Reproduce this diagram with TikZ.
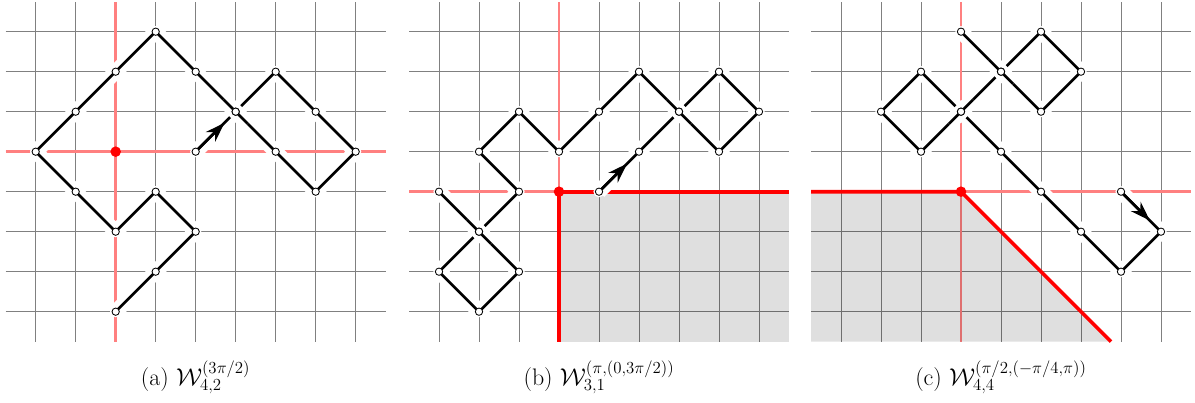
\documentclass[tikz,border=0pt]{standalone}
\usetikzlibrary{arrows.meta, calc}

\begin{document}
\begin{tikzpicture}[
  gridln/.style={gray, line width=0.7pt},
  axisln/.style={red!50, line width=2pt},
  bound/.style={red, line width=2.6pt},
  region/.style={fill=black, fill opacity=0.125},
  halo/.style={white, line width=10.5pt, line join=bevel},
  walk/.style={black, line width=1.9pt, line join=round},
  over/.style={white, line width=11pt},
  vtx/.style={circle, draw=black, fill=white, line width=0.6pt, inner sep=0pt, minimum size=5.2pt},
  orig/.style={circle, fill=red, inner sep=0pt, minimum size=7.5pt},
  stepar/.style={-{Stealth[length=14pt,width=9.5pt]}, line width=1.9pt},
  capt/.style={anchor=base, font=\fontsize{17}{20}\selectfont}
]
\useasboundingbox (0,0) rectangle (29.875,10.075);

% (a)
\begin{scope}[shift={(2.892,6.283)}]
  \foreach \x in {-2,...,6} \draw[gridln] (\x,-4.75) -- (\x,3.75);
  \foreach \y in {-4,...,3} \draw[gridln] (-2.75,\y) -- (6.75,\y);
  \draw[axisln] (-2.75,0) -- (6.75,0) (0,-4.75) -- (0,3.75);
  \foreach \x/\y [count=\k] in {2/0,3/1,4/2,5/1,6/0,5/-1,4/0,3/1,2/2,1/3,0/2,-1/1,-2/0,-1/-1,0/-2,1/-1,2/-2,1/-3,0/-4}
    \coordinate (a\k) at (\x,\y);
  \foreach \k in {1,...,19} \fill[white] (a\k) circle (4pt);
  \draw[halo] (a1) \foreach \k in {2,...,19} {-- (a\k)};
  \draw[walk] (a1) \foreach \k in {2,...,19} {-- (a\k)};
  \draw[stepar] (a1) -- ($(a1)!0.72!(a2)$);
  \draw[over] ($(a7)!0.7!(a8)$) -- ($(a8)!0.3!(a9)$);
  \draw[walk] ($(a7)!0.7!(a8)$) -- ($(a8)!0.3!(a9)$);
  \foreach \k in {1,...,19} \node[vtx] (va\k) at (a\k) {};
  \node[orig] (oa) at (0,0) {};
\end{scope}

% (b)
\begin{scope}[shift={(13.975,5.283)}]
  \foreach \x in {-3,...,5} \draw[gridln] (\x,-3.75) -- (\x,4.75);
  \foreach \y in {-3,...,4} \draw[gridln] (-3.75,\y) -- (5.75,\y);
  \draw[axisln] (-3.75,0) -- (5.75,0) (0,-3.75) -- (0,4.75);
  \fill[region] (0,0) rectangle (5.75,-3.75);
  \draw[bound] (0,-3.75) -- (0,0) -- (5.75,0);
  \foreach \x/\y [count=\k] in {1/0,2/1,3/2,4/3,5/2,4/1,3/2,2/3,1/2,0/1,-1/2,-2/1,-1/0,-2/-1,-1/-2,-2/-3,-3/-2,-2/-1,-3/0}
    \coordinate (b\k) at (\x,\y);
  \foreach \k in {1,...,19} \fill[white] (b\k) circle (4pt);
  \draw[halo] (b1) \foreach \k in {2,...,19} {-- (b\k)};
  \draw[walk] (b1) \foreach \k in {2,...,19} {-- (b\k)};
  \draw[stepar] (b1) -- ($(b1)!0.7!(b2)$);
  \draw[over] ($(b6)!0.7!(b7)$) -- ($(b7)!0.3!(b8)$);
  \draw[walk] ($(b6)!0.7!(b7)$) -- ($(b7)!0.3!(b8)$);
  \draw[over] ($(b19)!0.7!(b18)$) -- ($(b18)!0.3!(b15)$);
  \draw[walk] ($(b19)!0.7!(b18)$) -- ($(b18)!0.3!(b15)$);
  \foreach \k in {1,...,19} \node[vtx] (vb\k) at (b\k) {};
  \node[orig] (ob) at (0,0) {};
\end{scope}

% (c)
\begin{scope}[shift={(24.025,5.283)}]
  \foreach \x in {-3,...,5} \draw[gridln] (\x,-3.75) -- (\x,4.75);
  \foreach \y in {-3,...,4} \draw[gridln] (-3.75,\y) -- (5.75,\y);
  \draw[axisln] (-3.75,0) -- (5.75,0) (0,-3.75) -- (0,4.75);
  \fill[region] (-3.75,0) -- (0,0) -- (3.75,-3.75) -- (-3.75,-3.75) -- cycle;
  \draw[bound] (-3.75,0) -- (0,0) -- (3.75,-3.75);
  \foreach \x/\y [count=\k] in {4/0,5/-1,4/-2,3/-1,2/0,1/1,0/2,-1/3,-2/2,-1/1,0/2,1/3,2/2,3/3,2/4,1/3,0/4}
    \coordinate (c\k) at (\x,\y);
  \foreach \k in {1,...,17} \fill[white] (c\k) circle (4pt);
  \draw[halo] (c1) \foreach \k in {2,...,17} {-- (c\k)};
  \draw[walk] (c1) \foreach \k in {2,...,17} {-- (c\k)};
  \draw[stepar] (c1) -- ($(c1)!0.72!(c2)$);
  \draw[over] ($(c10)!0.7!(c11)$) -- ($(c11)!0.3!(c12)$);
  \draw[walk] ($(c10)!0.7!(c11)$) -- ($(c11)!0.3!(c12)$);
  \draw[over] ($(c17)!0.7!(c16)$) -- ($(c16)!0.3!(c13)$);
  \draw[walk] ($(c17)!0.7!(c16)$) -- ($(c16)!0.3!(c13)$);
  \foreach \k in {1,...,17} \node[vtx] (vc\k) at (c\k) {};
  \node[orig] (oc) at (0,0) {};
\end{scope}

% captions
\node[capt] (la) at (4.892,0.425) {(a) $\mathcal{W}^{(3\pi/2)}_{4,2}$};
\node[capt] (lb) at (14.975,0.425) {(b) $\mathcal{W}^{(\pi,(0,3\pi/2))}_{3,1}$};
\node[capt] (lc) at (25.025,0.425) {(c) $\mathcal{W}^{(\pi/2,(-\pi/4,\pi))}_{4,4}$};
\end{tikzpicture}
\end{document}
